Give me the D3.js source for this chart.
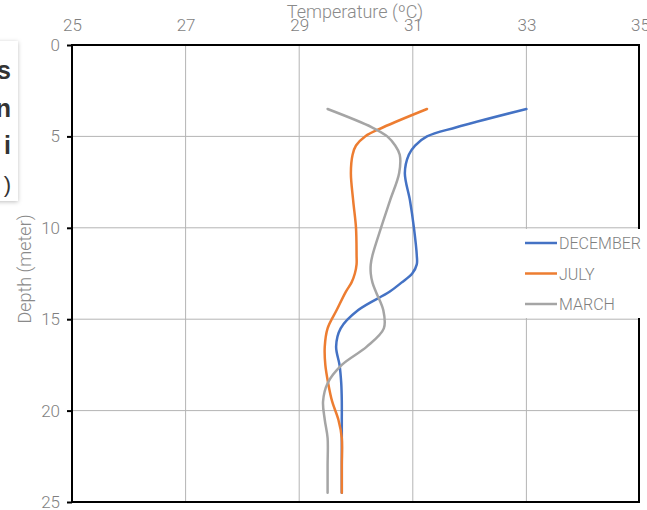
<!DOCTYPE html>
<html><head><meta charset="utf-8">
<script src="https://cdn.jsdelivr.net/npm/d3@7"></script>
<style>
html,body{margin:0;padding:0;background:#fff;}
svg{display:block;}
</style>
</head><body>
<svg id="chart" width="647" height="510"></svg>
<script>
const depths = [3.5, 4.5, 5, 5.5, 6, 7, 8.5, 10, 11.5, 12, 12.5, 13, 13.5, 14.5, 15.5, 16.5, 17.5, 18.5, 19.5, 20.5, 21.5, 23, 24.5];
const december = [33.0, 31.77, 31.25, 31.04, 30.93, 30.86, 30.95, 31.02, 31.07, 31.07, 30.99, 30.8, 30.59, 30.04, 29.73, 29.65, 29.71, 29.74, 29.75, 29.75, 29.75, 29.75, 29.75];
const july     = [31.25, 30.48, 30.16, 30.0, 29.94, 29.91, 29.95, 30.0, 30.01, 30.01, 29.98, 29.92, 29.82, 29.66, 29.5, 29.45, 29.46, 29.51, 29.58, 29.69, 29.75, 29.75, 29.75];
const march    = [29.5, 30.28, 30.55, 30.69, 30.77, 30.76, 30.6, 30.44, 30.29, 30.26, 30.26, 30.29, 30.35, 30.48, 30.49, 30.19, 29.75, 29.5, 29.42, 29.45, 29.5, 29.5, 29.5];
const seriesNames = ["DECEMBER", "JULY", "MARCH"];
const seriesColors = ["#4472C4", "#ED7D31", "#A5A5A5"];
const xTicks = [25, 27, 29, 31, 33, 35];
const yTicks = [0, 5, 10, 15, 20, 25];
const sideText = ["s", "n", "i", ")"];

const svg = d3.select("#chart");
const L = 72, R = 639, T = 45, B = 502;
const x = d3.scaleLinear().domain([25, 35]).range([L, R + 1]);
const y = d3.scaleLinear().domain([0, 25]).range([T, B]);
const font = "Roboto,Lato,sans-serif";

// gridlines
const g = svg.append("g");
g.selectAll(".vg").data(xTicks.slice(1, -1)).enter().append("line")
  .attr("x1", d => x(d)).attr("x2", d => x(d)).attr("y1", T).attr("y2", B)
  .attr("stroke", "#b4b4b4").attr("stroke-width", 1);
g.selectAll(".hg").data(yTicks.slice(1, -1)).enter().append("line")
  .attr("x1", L).attr("x2", R).attr("y1", d => y(d)).attr("y2", d => y(d))
  .attr("stroke", "#b4b4b4").attr("stroke-width", 1);

// series lines
const data = [december, july, march];
const line = d3.line().x(d => x(d[0])).y(d => y(d[1])).curve(d3.curveCatmullRom.alpha(0.5));
data.forEach((vals, i) => {
  svg.append("path")
    .datum(vals.map((v, j) => [v, depths[j]]))
    .attr("d", line).attr("fill", "none")
    .attr("stroke", seriesColors[i]).attr("stroke-width", 2.5)
    .attr("stroke-linecap", "round");
});

// border / axes
svg.append("rect").attr("x", L).attr("y", T).attr("width", R - L).attr("height", B - T)
  .attr("fill", "none").attr("stroke", "#000").attr("stroke-width", 2);

// left axis ticks & labels
const yAxis = d3.axisLeft(y).tickValues(yTicks).tickSize(5).tickPadding(7);
const ya = svg.append("g").attr("transform", `translate(${L},0)`).call(yAxis);
ya.select(".domain").remove();
ya.selectAll("line").attr("stroke", "#000").attr("stroke-width", 2);
ya.selectAll("text").attr("fill", "#7f7f7f").style("font-family", font).style("font-weight", 300).style("font-size", "17px");

// top axis labels
const xAxis = d3.axisTop(x).tickValues(xTicks).tickSize(0).tickPadding(14);
const xa = svg.append("g").attr("transform", `translate(0,${T})`).call(xAxis);
xa.select(".domain").remove();
xa.selectAll("line").remove();
xa.selectAll("text").attr("fill", "#7f7f7f").style("font-family", font).style("font-weight", 300).style("font-size", "17px");

// axis titles
svg.append("text").attr("x", 355).attr("y", 18).attr("text-anchor", "middle")
  .attr("fill", "#8a8a8a").style("font-family", font).style("font-weight", 300).style("font-size", "18px")
  .text("Temperature (ºC)");
svg.append("text").attr("transform", "translate(31,269) rotate(-90)").attr("text-anchor", "middle")
  .attr("fill", "#8a8a8a").style("font-family", font).style("font-weight", 300).style("font-size", "18px")
  .text("Depth (meter)");

// legend
const leg = svg.append("g");
leg.append("rect").attr("x", 517).attr("y", 229).attr("width", 130).attr("height", 89).attr("fill", "#fff");
seriesNames.forEach((n, i) => {
  const yy = 243 + i * 30.5;
  leg.append("line").attr("x1", 525).attr("x2", 557).attr("y1", yy).attr("y2", yy)
    .attr("stroke", seriesColors[i]).attr("stroke-width", 2.5);
  leg.append("text").attr("x", 559).attr("y", yy + 6).attr("fill", "#7f7f7f")
    .style("font-family", font).style("font-weight", 300).style("font-size", "16px").text(n);
});

// partial text box on left
const defs = svg.append("defs");
const f = defs.append("filter").attr("id", "sh").attr("x", "-50%").attr("y", "-10%").attr("width", "200%").attr("height", "120%");
f.append("feDropShadow").attr("dx", 0).attr("dy", 1).attr("stdDeviation", 2).attr("flood-color", "#000").attr("flood-opacity", 0.25);
svg.append("rect").attr("x", -10).attr("y", 41).attr("width", 28).attr("height", 160)
  .attr("fill", "#fff").attr("filter", "url(#sh)");
sideText.forEach((t, i) => {
  svg.append("text").attr("x", 11).attr("y", 79 + i * 37.5).attr("text-anchor", "end")
    .attr("fill", "#333").style("font-family", "'Liberation Sans',Arial,sans-serif")
    .style("font-size", i < 3 ? "25px" : "22px").style("font-weight", i < 3 ? "bold" : "normal")
    .text(t);
});
</script>
</body></html>
